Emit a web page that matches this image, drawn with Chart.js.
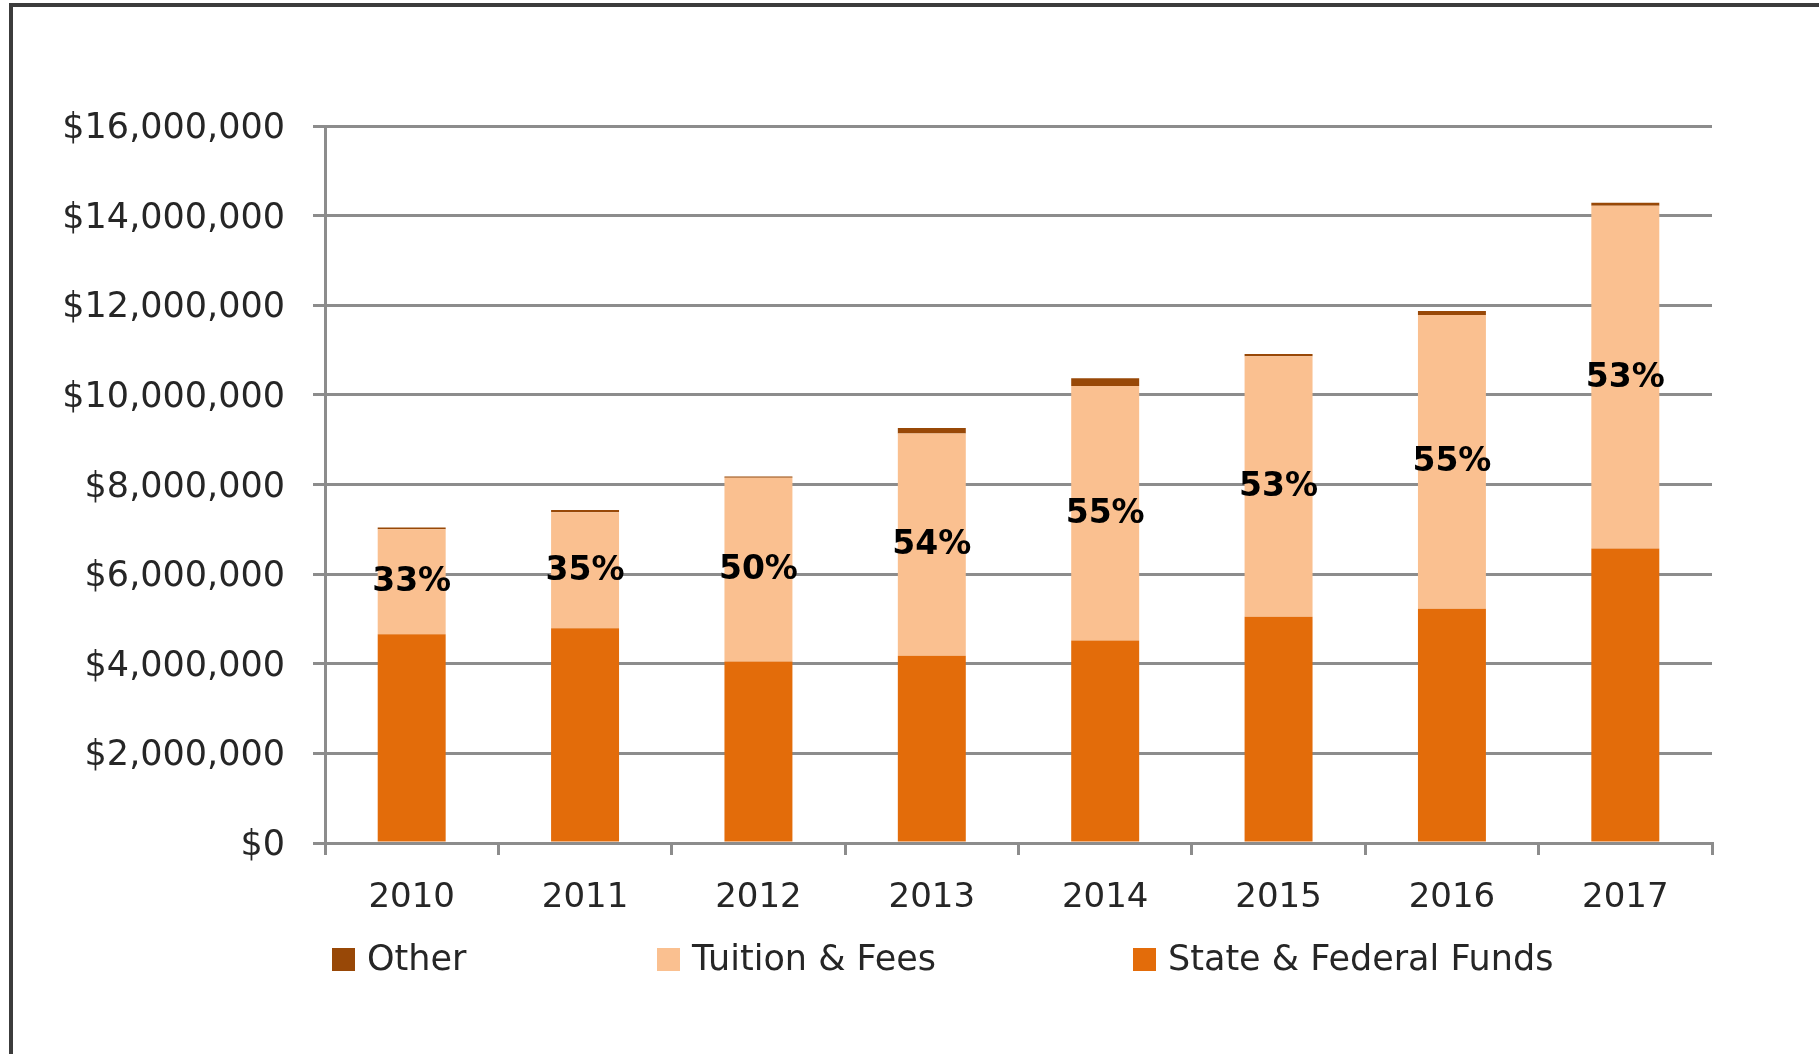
<!DOCTYPE html>
<html>
<head>
<meta charset="utf-8">
<script src="https://cdn.jsdelivr.net/npm/chart.js@4.4.1/dist/chart.umd.min.js"></script>
<style>
  html, body { margin: 0; padding: 0; background: #ffffff; width: 1819px; height: 1054px; overflow: hidden; }
  #frame { position: absolute; left: 9px; top: 3px; width: 1840px; height: 1080px; border-top: 4px solid #3c3c3c; border-left: 4px solid #3c3c3c; box-sizing: border-box; }
  #c { position: absolute; left: 0; top: 0; }
</style>
</head>
<body>
<div id="frame"></div>
<canvas id="c" width="1819" height="1054"></canvas>
<script>
const years = ['2010', '2011', '2012', '2013', '2014', '2015', '2016', '2017'];
const stateFederalFunds = [4660000, 4790000, 4050000, 4180000, 4520000, 5050000, 5230000, 6570000];
const tuitionFees = [2340000, 2590000, 4100000, 4960000, 5680000, 5810000, 6550000, 7650000];
const otherFunds = [40000, 50000, 30000, 120000, 170000, 50000, 90000, 70000];
const tuitionShareLabels = ['33%', '35%', '50%', '54%', '55%', '53%', '55%', '53%'];
const yMax = 16000000;
const yStep = 2000000;

const GRID = '#8c8c8c';
const TEXT = '#262626';

const pctPlugin = {
  id: 'pctLabels',
  afterDatasetsDraw(chart) {
    const meta = chart.getDatasetMeta(1);
    const ctx = chart.ctx;
    ctx.save();
    ctx.font = 'bold 33px "DejaVu Sans"';
    ctx.fillStyle = '#000000';
    ctx.textAlign = 'center';
    ctx.textBaseline = 'middle';
    meta.data.forEach((bar, i) => {
      const cy = (bar.y + bar.base) / 2;
      ctx.fillText(tuitionShareLabels[i], bar.x, cy + 1);
    });
    ctx.restore();
  }
};

const legendPlugin = {
  id: 'customLegend',
  afterDraw(chart) {
    const ctx = chart.ctx;
    const area = chart.chartArea;
    const order = [2, 1, 0];
    const offsets = [7, 332, 808];
    const boxTop = area.bottom + 105;
    const box = 23;
    ctx.save();
    ctx.font = '35px "DejaVu Sans"';
    ctx.textBaseline = 'middle';
    ctx.textAlign = 'left';
    order.forEach((di, k) => {
      const ds = chart.data.datasets[di];
      const x = area.left + offsets[k];
      ctx.fillStyle = ds.backgroundColor;
      ctx.fillRect(x, boxTop, box, box);
      ctx.fillStyle = TEXT;
      ctx.fillText(ds.label, x + box + 12, boxTop + box / 2 + 1);
    });
    ctx.restore();
  }
};

new Chart(document.getElementById('c'), {
  type: 'bar',
  data: {
    labels: years,
    datasets: [
      { label: 'State & Federal Funds', data: stateFederalFunds, backgroundColor: '#E36C0A', borderWidth: 0 },
      { label: 'Tuition & Fees', data: tuitionFees, backgroundColor: '#FAC090', borderWidth: 0 },
      { label: 'Other', data: otherFunds, backgroundColor: '#984807', borderWidth: 0 }
    ]
  },
  options: {
    responsive: false,
    animation: false,
    devicePixelRatio: 1,
    layout: { padding: { left: 20, right: 107, top: 126, bottom: 131 } },
    datasets: { bar: { barPercentage: 0.392, categoryPercentage: 1.0 } },
    plugins: {
      legend: { display: false },
      tooltip: { enabled: false },
      title: { display: false }
    },
    scales: {
      x: {
        stacked: true,
        offset: true,
        afterFit: (s) => { s.height = 80; },
        grid: { display: true, offset: true, drawOnChartArea: false, drawTicks: true, tickLength: 12, color: GRID, lineWidth: 3 },
        border: { display: true, color: GRID, width: 3 },
        ticks: { color: TEXT, font: { family: 'DejaVu Sans', size: 34 }, padding: 23, maxRotation: 0 }
      },
      y: {
        stacked: true,
        min: 0,
        max: yMax,
        afterFit: (s) => { s.width = 305; },
        grid: { color: GRID, lineWidth: 3, drawTicks: true, tickLength: 12 },
        border: { display: true, color: GRID, width: 3 },
        ticks: {
          stepSize: yStep,
          color: TEXT,
          font: { family: 'DejaVu Sans', size: 35 },
          padding: 28,
          labelOffset: 3,
          callback: (v) => '$' + Number(v).toLocaleString('en-US')
        }
      }
    }
  },
  plugins: [pctPlugin, legendPlugin]
});
</script>
</body>
</html>
